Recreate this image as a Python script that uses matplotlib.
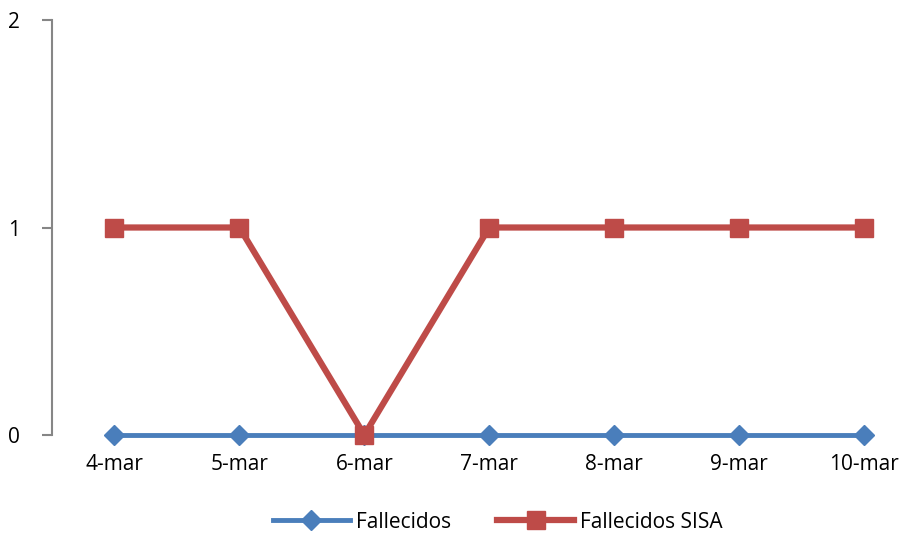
import matplotlib
matplotlib.use("Agg")
import matplotlib.pyplot as plt

categories = ["4-mar", "5-mar", "6-mar", "7-mar", "8-mar", "9-mar", "10-mar"]
fallecidos = [0, 0, 0, 0, 0, 0, 0]
fallecidos_sisa = [1, 1, 0, 1, 1, 1, 1]
yticks = [0, 1, 2]

plt.rcParams['font.family'] = ['Open Sans', 'DejaVu Sans']

fig = plt.figure(figsize=(9.06, 5.38), dpi=100)
ax = fig.add_axes([52/906, 1-435/538, (926.5-52)/906, (435-20)/538])

x = list(range(len(categories)))
ax.plot(x, fallecidos, color="#4a7ebb", lw=3.5, marker="D", ms=10, label="Fallecidos", zorder=3, clip_on=False)
ax.plot(x, fallecidos_sisa, color="#be4b48", lw=4.5, marker="s", ms=13, label="Fallecidos SISA", zorder=4, clip_on=False)

ax.set_xlim(-0.5, len(categories) - 0.5)
ax.set_ylim(0, 2)
ax.set_yticks(yticks)
ax.set_xticks(x)
ax.set_xticklabels(categories)
for s in ["top", "right", "bottom"]:
    ax.spines[s].set_visible(False)
ax.spines["left"].set_color("#868686")
ax.spines["left"].set_linewidth(1.5)
ax.tick_params(axis="y", length=7, width=1.5, color="#868686", labelsize=15, pad=16)
ax.tick_params(axis="x", length=0, labelsize=15, pad=14)

fig.legend(loc="center", bbox_to_anchor=(498/906, 1-522/538), ncol=2, frameon=False,
           fontsize=15, handlelength=3.7, columnspacing=2.2, handletextpad=0.3)

fig.savefig("out.png", dpi=100)
